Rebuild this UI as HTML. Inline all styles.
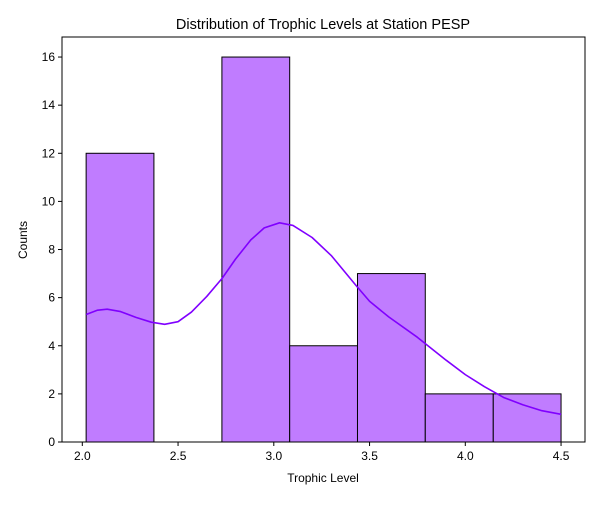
<!DOCTYPE html>
<html><head><meta charset="utf-8"><style>
body{margin:0;background:#fff;}
svg text{font-family:"Liberation Sans","DejaVu Sans",sans-serif;fill:#000;}
</style></head><body>
<svg id="chart" width="600" height="500" xmlns="http://www.w3.org/2000/svg"></svg>
<script>
const binEdges=[2.02,2.374,2.729,3.083,3.437,3.791,4.146,4.5];
const binCounts=[12,0,16,4,7,2,2];
const kdeX=[2.02,2.08,2.13,2.2,2.28,2.36,2.43,2.5,2.57,2.65,2.73,2.8,2.88,2.95,3.03,3.1,3.2,3.3,3.43,3.5,3.6,3.75,3.9,4.0,4.1,4.2,4.3,4.4,4.5];
const kdeY=[5.3,5.48,5.52,5.42,5.18,4.98,4.89,5.0,5.4,6.05,6.8,7.6,8.4,8.9,9.11,9.0,8.5,7.75,6.5,5.85,5.2,4.35,3.4,2.8,2.3,1.85,1.55,1.3,1.15];
const xTicks=[2.0,2.5,3.0,3.5,4.0,4.5];
const yTicks=[0,2,4,6,8,10,12,14,16];
const ns="http://www.w3.org/2000/svg";
const svg=document.getElementById('chart');
const L=62,R=585,T=37,B=442;
const xs=v=>82.3+(v-2.0)*191.5;
const ys=v=>442-v*24.06;
function mk(t,a){const e=document.createElementNS(ns,t);for(const k in a)e.setAttribute(k,a[k]);svg.appendChild(e);return e;}
for(let i=0;i<binCounts.length;i++){
 const x0=xs(binEdges[i]),x1=xs(binEdges[i+1]);
 const r=mk('rect',{x:x0,y:ys(binCounts[i]),width:x1-x0,height:ys(0)-ys(binCounts[i]),fill:'#c07cff',stroke:'#000','stroke-width':1});
 
 
}
const p=mk('path',{d:kdeX.map((x,i)=>(i?'L':'M')+xs(x)+','+ys(kdeY[i])).join(''),fill:'none',stroke:'#8000ff','stroke-width':1.6,'stroke-linejoin':'round'});


const ax=mk('rect',{x:L,y:T,width:R-L,height:B-T,fill:'none',stroke:'#000','stroke-width':1});


xTicks.forEach(v=>{
 mk('line',{x1:xs(v),x2:xs(v),y1:B,y2:B+4,stroke:'#000'});
 const t=mk('text',{x:xs(v),y:B+18,'text-anchor':'middle','font-size':12});
 t.textContent=v.toFixed(1);
 
 
});
yTicks.forEach(v=>{
 mk('line',{x1:L-4,x2:L,y1:ys(v),y2:ys(v),stroke:'#000'});
 const t=mk('text',{x:L-7,y:ys(v)+4,'text-anchor':'end','font-size':12});
 t.textContent=v;
 
 
});
let t=mk('text',{x:323,y:482,'text-anchor':'middle','font-size':12});t.textContent='Trophic Level';


t=mk('text',{x:27,y:240,'text-anchor':'middle','font-size':12,transform:'rotate(-90 27 240)'});t.textContent='Counts';


t=mk('text',{x:323,y:29,'text-anchor':'middle','font-size':14.5});t.textContent='Distribution of Trophic Levels at Station PESP';


</script>
</body></html>
